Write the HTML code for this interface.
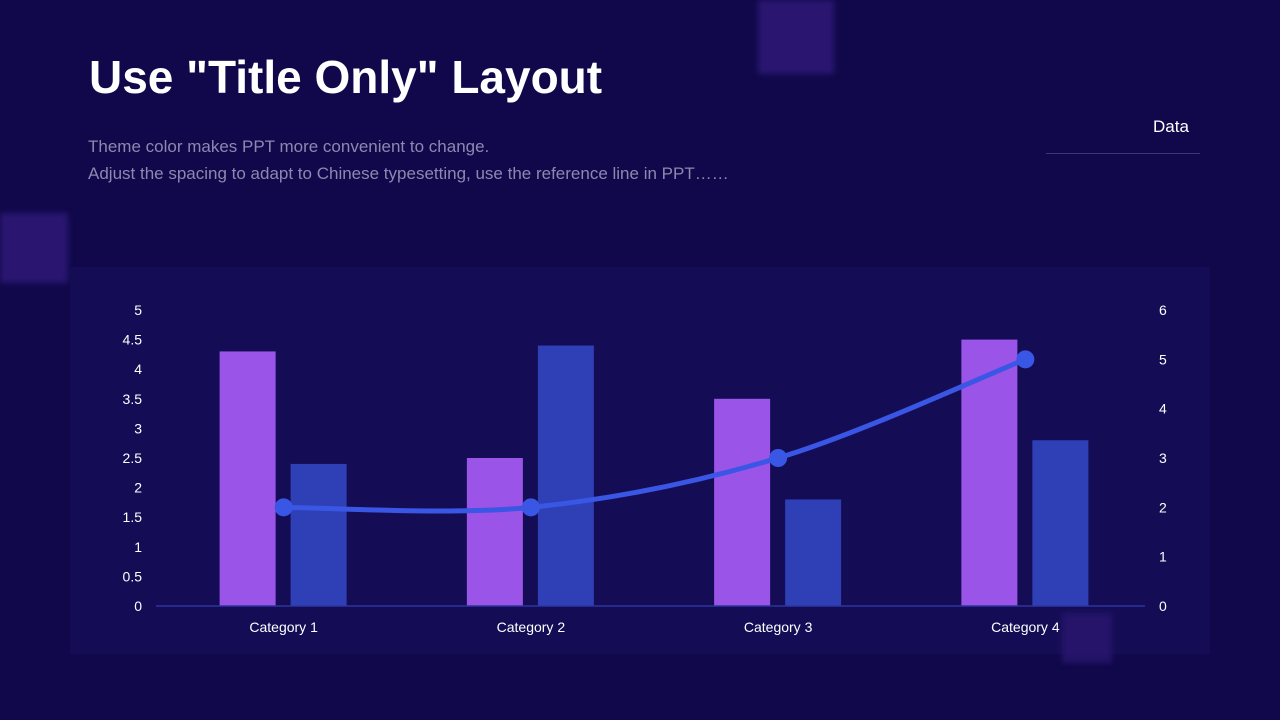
<!DOCTYPE html>
<html><head><meta charset="utf-8"><style>
body{margin:0;width:1280px;height:720px;overflow:hidden;background:#10084a;font-family:"Liberation Sans",sans-serif;position:relative}
.sq{position:absolute;background:#2a1670;filter:blur(3px)}
</style></head><body>
<div class="sq" style="left:758px;top:0;width:76px;height:74px"></div>
<div class="sq" style="left:0;top:213px;width:68px;height:70px"></div>
<div style="position:absolute;left:89px;top:50px;font-size:46px;font-weight:bold;color:#fff">Use "Title Only" Layout</div>
<div style="position:absolute;left:88px;top:133px;font-size:17px;line-height:27px;color:#8d88b0">Theme color makes PPT more convenient to change.<br>Adjust the spacing to adapt to Chinese typesetting, use the reference line in PPT……</div>
<div style="position:absolute;left:1153px;top:117px;font-size:17px;color:#fff">Data</div>
<div style="position:absolute;left:1046px;top:153px;width:154px;height:1px;background:#3a3478"></div>
<div style="position:absolute;left:70px;top:267px;width:1140px;height:387px;background:#140d55"></div>
<svg id="chart" width="1280" height="720" style="position:absolute;left:0;top:0"></svg>
<div class="sq" style="left:1062px;top:613px;width:50px;height:50px;opacity:.8"></div>
<script>
const categories=["Category 1","Category 2","Category 3","Category 4"];
const series1=[4.3,2.5,3.5,4.5];
const series2=[2.4,4.4,1.8,2.8];
const lineSeries=[2,2,3,5];
const leftTicks=["0","0.5","1","1.5","2","2.5","3","3.5","4","4.5","5"];
const rightTicks=["0","1","2","3","4","5","6"];
const svg=document.getElementById('chart');const NS='http://www.w3.org/2000/svg';
const x0=156,x1=1145,y0=606,yTop=310;
const yL=v=>y0-(v/5)*(y0-yTop);
const yR=v=>y0-(v/6)*(y0-yTop);
const bandW=(x1-x0)/categories.length;
const xC=i=>x0+bandW*(i+0.5)+4;
function mk(t,a,txt){const e=document.createElementNS(NS,t);for(const k in a)e.setAttribute(k,a[k]);if(txt!=null)e.textContent=txt;svg.appendChild(e);return e;}
leftTicks.forEach(t=>{const e=mk('text',{x:142,y:yL(+t)+5,'text-anchor':'end','font-size':14,fill:'#fff','font-family':'Liberation Sans'},t);

});
rightTicks.forEach(t=>{const e=mk('text',{x:1159,y:yR(+t)+5,'font-size':14,fill:'#fff','font-family':'Liberation Sans'},t);

});
categories.forEach((c,i)=>{
const b1=mk('rect',{x:xC(i)-64,y:yL(series1[i]),width:56,height:y0-yL(series1[i]),fill:'#9a55e8'});


const b2=mk('rect',{x:xC(i)+7,y:yL(series2[i]),width:56,height:y0-yL(series2[i]),fill:'#2f3fb5'});


const t=mk('text',{x:xC(i),y:632,'text-anchor':'middle','font-size':14,fill:'#fff','font-family':'Liberation Sans'},c);


});
const ax=mk('line',{x1:x0,x2:x1,y1:y0,y2:y0,stroke:'#2d35a0','stroke-width':1.5});


const pts=lineSeries.map((v,i)=>[xC(i),yR(v)]);
let d='M'+pts[0][0]+','+pts[0][1];
for(let i=0;i<pts.length-1;i++){const p0=pts[Math.max(0,i-1)],p1=pts[i],p2=pts[i+1],p3=pts[Math.min(pts.length-1,i+2)];const k=1/6;
d+=` C${p1[0]+(p2[0]-p0[0])*k},${p1[1]+(p2[1]-p0[1])*k} ${p2[0]-(p3[0]-p1[0])*k},${p2[1]-(p3[1]-p1[1])*k} ${p2[0]},${p2[1]}`;}
const ln=mk('path',{d:d,fill:'none',stroke:'#3a56e4','stroke-width':5,'stroke-linecap':'round'});


pts.forEach(p=>{const c=mk('circle',{cx:p[0],cy:p[1],r:9,fill:'#3a56e4'});

});
</script>
</body></html>
